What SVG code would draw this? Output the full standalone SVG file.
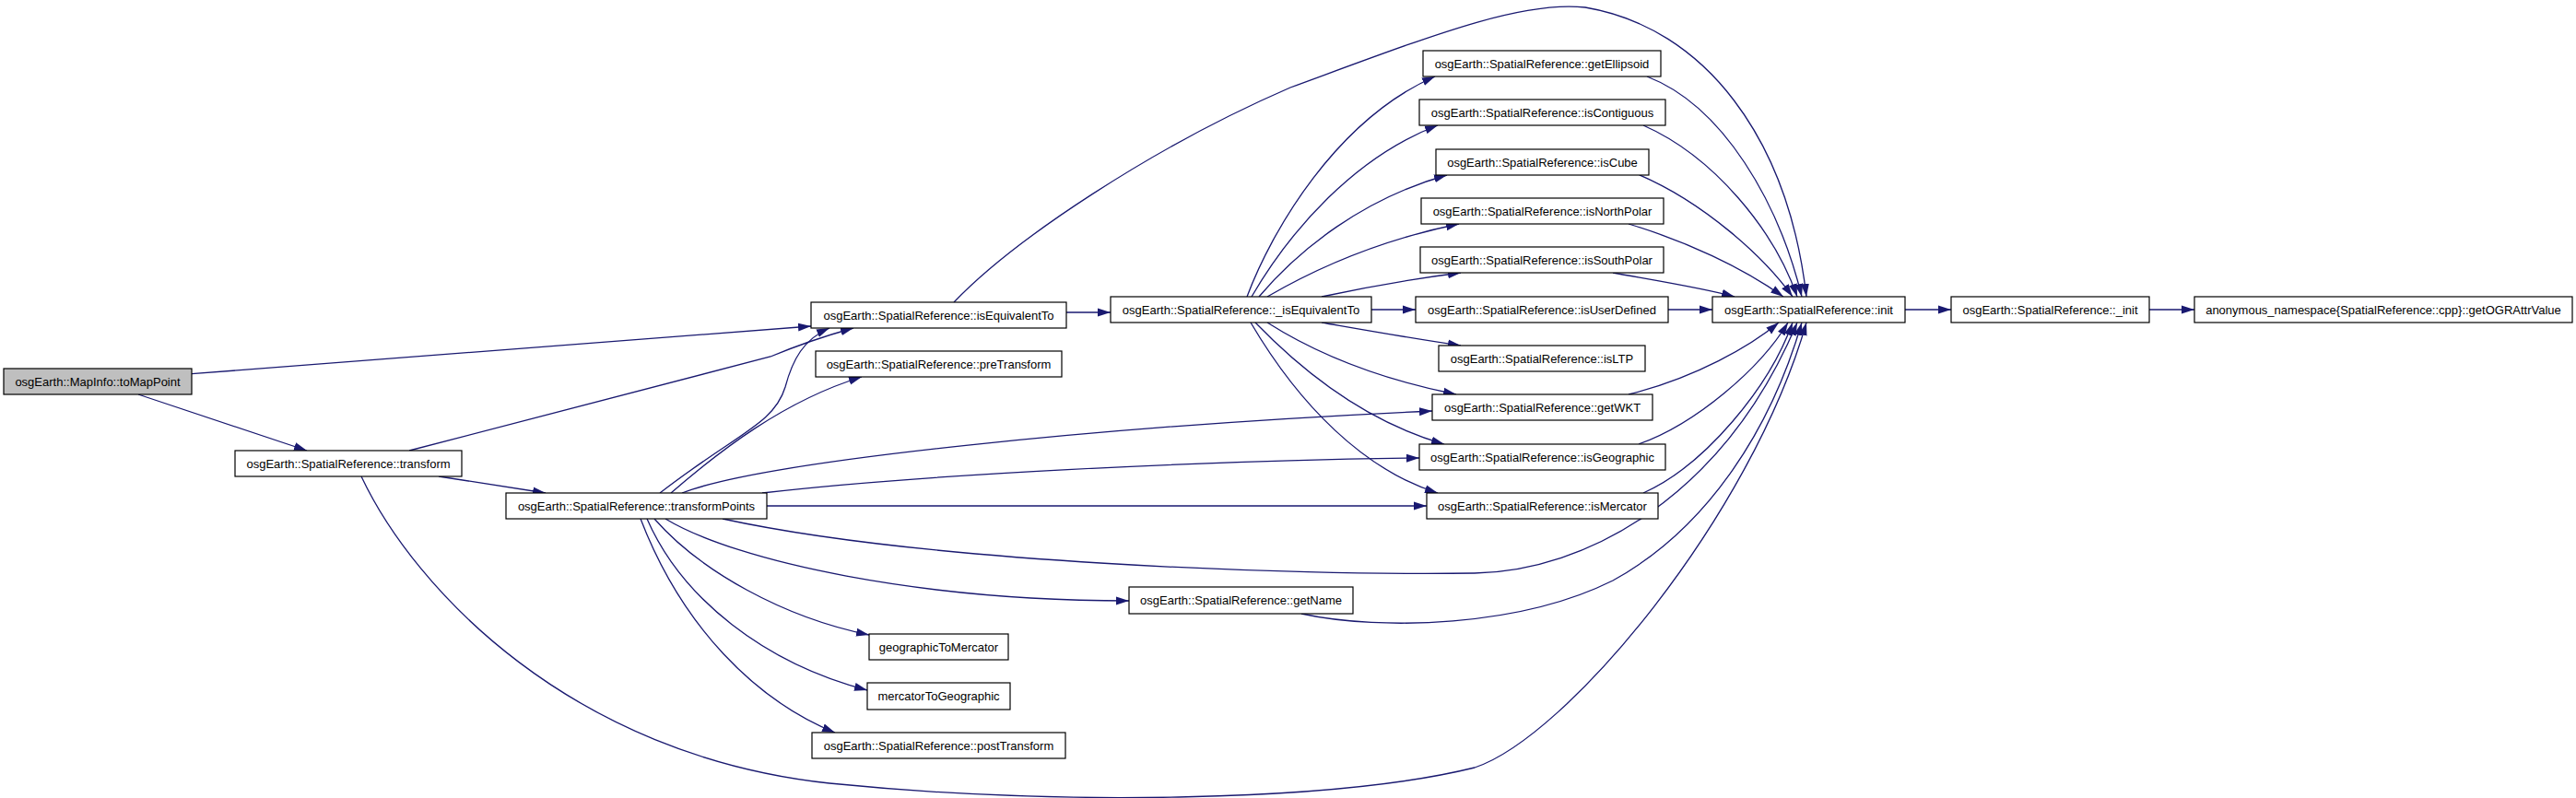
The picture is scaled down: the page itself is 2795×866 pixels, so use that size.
<svg xmlns="http://www.w3.org/2000/svg" width="2795" height="866" viewBox="0 0 2795 866">
<defs>
<style>
.n rect{fill:#ffffff;stroke:#000000;stroke-width:1.2}
.n.start rect{fill:#bfbfbf}
.n text{font-family:"Liberation Sans",Arial,Helvetica,sans-serif;font-size:13px;fill:#000;text-anchor:middle}
.e path{fill:none;stroke:#191970;stroke-width:1.3;marker-end:url(#ah)}
</style>
<marker id="ah" markerUnits="userSpaceOnUse" markerWidth="14" markerHeight="10" viewBox="0 0 14 10" refX="14" refY="5" orient="auto">
<path d="M0,0.5 L14,5 L0,9.5 z" fill="#191970"/>
</marker>
</defs>
<rect width="2795" height="866" fill="#ffffff"/>
<g id="edges" class="e">
<path d="M208,405.7 L880,354"/>
<path d="M150,428 L333,489"/>
<path d="M476,517 L592,535"/>
<path d="M444,489 L836,387 C860,377 890,366 926,356"/>
<path d="M392,517 C450,640 620,820 900,850 C1150,875 1450,870 1600,833 C1700,800 1900,560 1960,350"/>
<path d="M716,535 C800,470 840,460 852,420 C860,390 872,368 900,356"/>
<path d="M728,535 C780,490 850,435 935,409"/>
<path d="M740,535 C830,500 1200,462 1554,446"/>
<path d="M827,535 C1000,515 1300,500 1540,497"/>
<path d="M832,549 L1548,549"/>
<path d="M784,563 C1000,610 1400,625 1600,622 C1720,620 1870,540 1950,350"/>
<path d="M722,563 C800,610 1000,652 1225,652"/>
<path d="M710,563 C760,620 850,670 943,689"/>
<path d="M702,563 C740,650 830,720 941,749"/>
<path d="M695,563 C740,680 820,760 906,795"/>
<path d="M1157,339 L1205,339"/>
<path d="M1035,328 C1100,260 1250,160 1400,95 C1550,40 1650,0 1720,8 C1850,30 1940,150 1960,322"/>
<path d="M1353,322 C1380,250 1450,130 1557,83"/>
<path d="M1358,322 C1400,250 1470,170 1560,136"/>
<path d="M1366,322 C1410,270 1480,215 1570,190"/>
<path d="M1375,322 C1430,290 1500,260 1583,243"/>
<path d="M1434,322 C1480,312 1530,303 1585,296"/>
<path d="M1488,336 L1536,336"/>
<path d="M1434,350 C1480,358 1530,367 1585,375"/>
<path d="M1375,350 C1430,385 1500,412 1580,428"/>
<path d="M1362,350 C1420,410 1490,460 1567,482"/>
<path d="M1357,350 C1410,440 1480,510 1560,535"/>
<path d="M1787,83 C1870,115 1930,220 1955,322"/>
<path d="M1783,136 C1860,170 1925,250 1950,322"/>
<path d="M1777,189 C1850,220 1915,280 1945,322"/>
<path d="M1767,243 C1830,262 1890,290 1935,322"/>
<path d="M1750,296 C1800,305 1850,313 1882,322"/>
<path d="M1810,336 L1858,336"/>
<path d="M1767,428 C1840,410 1900,375 1930,350"/>
<path d="M1778,482 C1840,460 1910,400 1940,350"/>
<path d="M1783,535 C1850,505 1920,420 1945,350"/>
<path d="M1412,666 C1500,685 1650,680 1750,630 C1850,575 1920,470 1955,350"/>
<path d="M2067,336 L2117,336"/>
<path d="M2332,336 L2381,336"/>
</g>
<g id="toMapPoint" class="n start"><rect x="4" y="400" width="204" height="28"/><text x="106" y="418.5">osgEarth::MapInfo::toMapPoint</text></g>
<g id="transform" class="n"><rect x="255" y="489" width="246" height="28"/><text x="378" y="507.5">osgEarth::SpatialReference::transform</text></g>
<g id="transformPoints" class="n"><rect x="549" y="535" width="283" height="28"/><text x="690.5" y="553.5">osgEarth::SpatialReference::transformPoints</text></g>
<g id="isEquivalentTo" class="n"><rect x="880" y="328" width="277" height="28"/><text x="1018.5" y="346.5">osgEarth::SpatialReference::isEquivalentTo</text></g>
<g id="preTransform" class="n"><rect x="885" y="381" width="267" height="28"/><text x="1018.5" y="399.5">osgEarth::SpatialReference::preTransform</text></g>
<g id="_isEquivalentTo" class="n"><rect x="1205" y="322" width="283" height="28"/><text x="1346.5" y="340.5">osgEarth::SpatialReference::_isEquivalentTo</text></g>
<g id="getName" class="n"><rect x="1225" y="637" width="243" height="29"/><text x="1346.5" y="656">osgEarth::SpatialReference::getName</text></g>
<g id="geographicToMercator" class="n"><rect x="943" y="688" width="151" height="28"/><text x="1018.5" y="706.5">geographicToMercator</text></g>
<g id="mercatorToGeographic" class="n"><rect x="941" y="741" width="155" height="29"/><text x="1018.5" y="760">mercatorToGeographic</text></g>
<g id="postTransform" class="n"><rect x="881" y="795" width="275" height="28"/><text x="1018.5" y="813.5">osgEarth::SpatialReference::postTransform</text></g>
<g id="getEllipsoid" class="n"><rect x="1544" y="55" width="258" height="28"/><text x="1673" y="73.5">osgEarth::SpatialReference::getEllipsoid</text></g>
<g id="isContiguous" class="n"><rect x="1540" y="108" width="267" height="28"/><text x="1673.5" y="126.5">osgEarth::SpatialReference::isContiguous</text></g>
<g id="isCube" class="n"><rect x="1558" y="162" width="231" height="28"/><text x="1673.5" y="180.5">osgEarth::SpatialReference::isCube</text></g>
<g id="isNorthPolar" class="n"><rect x="1542" y="215" width="263" height="28"/><text x="1673.5" y="233.5">osgEarth::SpatialReference::isNorthPolar</text></g>
<g id="isSouthPolar" class="n"><rect x="1541" y="268" width="264" height="28"/><text x="1673" y="286.5">osgEarth::SpatialReference::isSouthPolar</text></g>
<g id="isUserDefined" class="n"><rect x="1536" y="322" width="274" height="28"/><text x="1673" y="340.5">osgEarth::SpatialReference::isUserDefined</text></g>
<g id="isLTP" class="n"><rect x="1561" y="375" width="224" height="28"/><text x="1673" y="393.5">osgEarth::SpatialReference::isLTP</text></g>
<g id="getWKT" class="n"><rect x="1554" y="428" width="239" height="28"/><text x="1673.5" y="446.5">osgEarth::SpatialReference::getWKT</text></g>
<g id="isGeographic" class="n"><rect x="1540" y="482" width="267" height="28"/><text x="1673.5" y="500.5">osgEarth::SpatialReference::isGeographic</text></g>
<g id="isMercator" class="n"><rect x="1548" y="535" width="251" height="28"/><text x="1673.5" y="553.5">osgEarth::SpatialReference::isMercator</text></g>
<g id="init" class="n"><rect x="1858" y="322" width="209" height="28"/><text x="1962.5" y="340.5">osgEarth::SpatialReference::init</text></g>
<g id="_init" class="n"><rect x="2117" y="322" width="215" height="28"/><text x="2224.5" y="340.5">osgEarth::SpatialReference::_init</text></g>
<g id="getOGRAttrValue" class="n"><rect x="2381" y="322" width="410" height="28"/><text x="2586" y="340.5">anonymous_namespace{SpatialReference::cpp}::getOGRAttrValue</text></g>
</svg>
